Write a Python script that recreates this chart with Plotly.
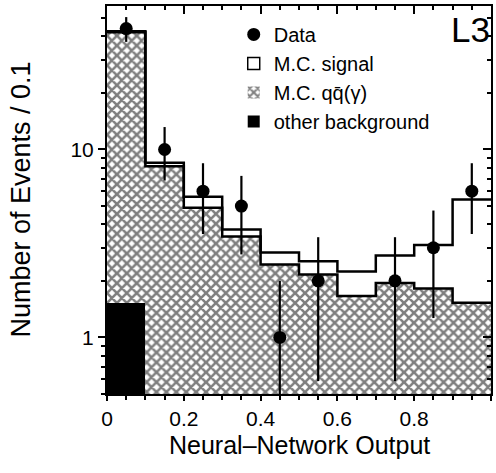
import numpy as np
import plotly.graph_objects as go

# ---- data ----
bin_edges = [0.0, 0.1, 0.2, 0.3, 0.4, 0.5, 0.6, 0.7, 0.8, 0.9, 1.0]
bin_centers = [0.05, 0.15, 0.25, 0.35, 0.45, 0.55, 0.65, 0.75, 0.85, 0.95]
data_counts = [44, 10, 6, 5, 1, 2, 0, 2, 3, 6]
other_bkg = [1.53, 0, 0, 0, 0, 0, 0, 0, 0, 0]
mc_qq = [40.5, 8.15, 4.9, 3.44, 2.44, 2.16, 1.66, 1.95, 1.82, 1.53]
mc_signal = [0.6, 0.35, 0.7, 0.31, 0.39, 0.38, 0.58, 0.78, 1.28, 3.89]
x_ticks = [0, 0.2, 0.4, 0.6, 0.8, 1]

# cumulative stacks
bkg_total = [o + q for o, q in zip(other_bkg, mc_qq)]
all_total = [b + s for b, s in zip(bkg_total, mc_signal)]

FONT = "Liberation Sans, Arial, Helvetica, sans-serif"
yr = [np.log10(0.5), np.log10(58)]

fig = go.Figure()

# hatched qq (+other) region
fig.add_trace(go.Bar(
    x=bin_centers, y=bkg_total, width=0.1,
    marker=dict(color="white", line=dict(width=0),
                pattern=dict(shape="x", fgcolor="black", bgcolor="white",
                             size=7, solidity=0.6)),
    name="M.C. qq\u0304(\u03b3)", legendgroup="c", legendrank=3,
))
# other background (black)
fig.add_trace(go.Bar(
    x=bin_centers, y=[v if v > 0 else None for v in other_bkg], width=0.1,
    marker=dict(color="black", line=dict(width=0)),
    name="other background", legendgroup="d", legendrank=4,
))
# step outlines
fig.add_trace(go.Scatter(
    x=bin_edges, y=bkg_total + [bkg_total[-1]], mode="lines",
    line=dict(shape="hv", color="black", width=2.5), showlegend=False,
    hoverinfo="skip",
))
fig.add_trace(go.Scatter(
    x=bin_edges, y=all_total + [all_total[-1]], mode="lines",
    line=dict(shape="hv", color="black", width=2.5), showlegend=False,
    hoverinfo="skip",
))
# legend entry for signal
fig.add_trace(go.Bar(
    x=[None], y=[None],
    marker=dict(color="white", line=dict(color="black", width=1.5)),
    name="M.C. signal", legendgroup="b", legendrank=2,
))
# data points
dx = [c for c, n in zip(bin_centers, data_counts) if n > 0]
dy = [n for n in data_counts if n > 0]
err_p = [np.sqrt(n) for n in dy]
err_m = [min(np.sqrt(n), 0.99 * n) for n in dy]
fig.add_trace(go.Scatter(
    x=dx, y=dy, mode="markers",
    marker=dict(color="black", size=13, symbol="circle"),
    error_y=dict(type="data", array=err_p, arrayminus=err_m,
                 color="black", thickness=2.2, width=0),
    name="Data", legendgroup="a", legendrank=1,
))
# dummy trace for mirrored inside-tick axes
fig.add_trace(go.Scatter(x=[None], y=[None], xaxis="x2", yaxis="y2",
                         showlegend=False, hoverinfo="skip"))

fig.add_annotation(
    text="L3", xref="paper", yref="paper", x=1.0, y=1.0,
    xanchor="right", yanchor="top", showarrow=False,
    font=dict(family=FONT, size=35, color="black"), xshift=1, yshift=-2,
)
fig.add_annotation(
    text="Neural\u2013Network Output", xref="paper", yref="paper",
    x=0.5, y=-0.131, xanchor="center", yanchor="middle", showarrow=False,
    font=dict(family=FONT, size=25, color="black"),
)
fig.add_annotation(
    text="Number of Events / 0.1", xref="paper", yref="paper",
    x=-0.225, y=0.5, xanchor="center", yanchor="middle", showarrow=False,
    textangle=-90, font=dict(family=FONT, size=27, color="black"),
)

fig.update_layout(
    width=496, height=473,
    margin=dict(l=107, r=3, t=6, b=79),
    paper_bgcolor="white", plot_bgcolor="white",
    barmode="overlay", bargap=0,
    font=dict(family=FONT, color="black"),
    showlegend=True,
    legend=dict(
        x=0.33, y=0.977, xanchor="left", yanchor="top",
        bgcolor="rgba(0,0,0,0)", font=dict(family=FONT, size=20),
        traceorder="grouped", tracegroupgap=0,
    ),
    xaxis=dict(
        range=[0, 1], tickvals=x_ticks, ticktext=[str(t) for t in x_ticks],
        ticks="outside", ticklen=5, tickwidth=2, tickcolor="black",
        minor=dict(dtick=0.05, ticks="outside", ticklen=4, tickwidth=1.5,
                   tickcolor="black", showgrid=False),
        showline=True, linecolor="black", linewidth=2, mirror=True,
        showgrid=False, zeroline=False,
        tickfont=dict(family=FONT, size=21),
    ),
    yaxis=dict(
        type="log", range=yr, dtick=1,
        ticks="outside", ticklen=7, tickwidth=2, tickcolor="black",
        minor=dict(ticks="outside", ticklen=4, tickwidth=1.5,
                   tickcolor="black", showgrid=False),
        showline=True, linecolor="black", linewidth=2, mirror=True,
        showgrid=False, zeroline=False,
        tickfont=dict(family=FONT, size=21),
    ),
    xaxis2=dict(
        overlaying="x", side="top", range=[0, 1], tickvals=x_ticks,
        showticklabels=False, ticks="inside", ticklen=8, tickwidth=2,
        tickcolor="black",
        minor=dict(dtick=0.05, ticks="inside", ticklen=4, tickwidth=1.5,
                   tickcolor="black", showgrid=False),
        showgrid=False, zeroline=False, showline=False,
    ),
    yaxis2=dict(
        overlaying="y", side="right", type="log", range=yr, dtick=1,
        showticklabels=False, ticks="inside", ticklen=8, tickwidth=2,
        tickcolor="black",
        minor=dict(ticks="inside", ticklen=4, tickwidth=1.5,
                   tickcolor="black", showgrid=False),
        showgrid=False, zeroline=False, showline=False,
    ),
)

fig.write_html("out.html")
